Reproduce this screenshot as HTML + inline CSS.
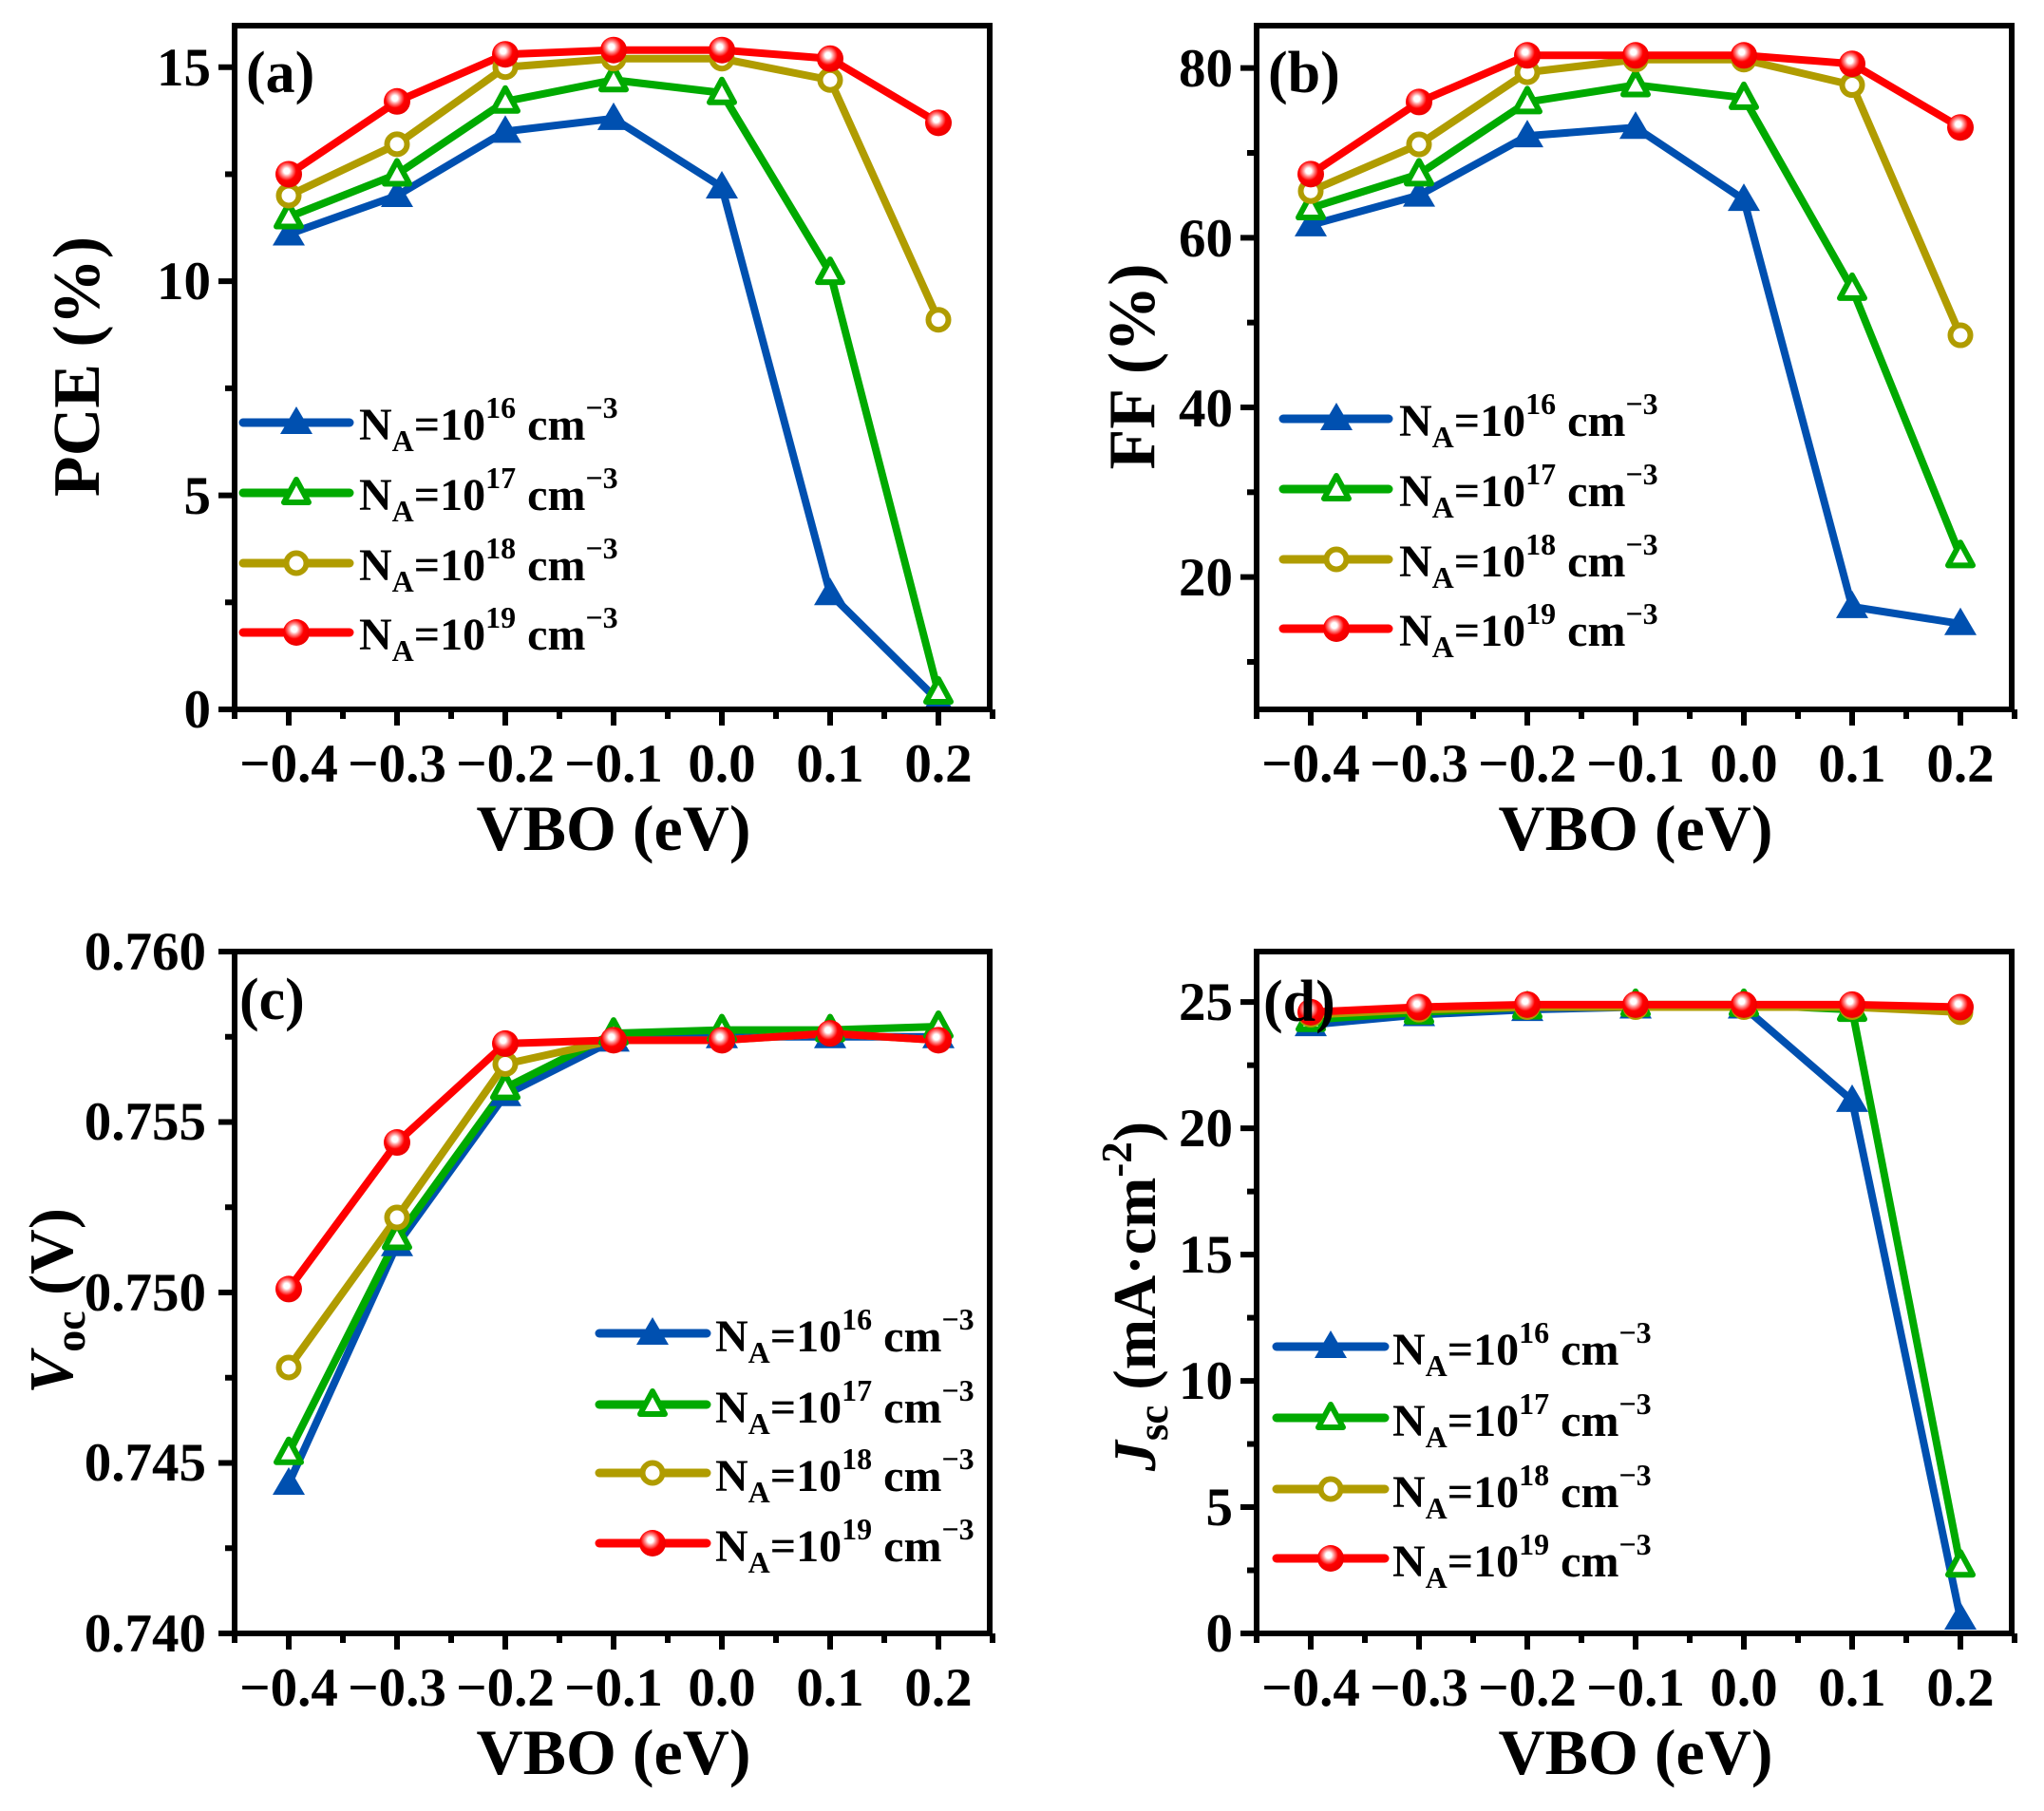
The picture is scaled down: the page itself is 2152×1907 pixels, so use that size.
<!DOCTYPE html>
<html><head><meta charset="utf-8"><style>
html,body{margin:0;padding:0;background:#fff;}
svg{display:block;font-family:"Liberation Serif",serif;font-weight:bold;}
</style></head><body>
<svg id="s" xmlns="http://www.w3.org/2000/svg" width="2152" height="1907" viewBox="0 0 2152 1907">
<defs>
<radialGradient id="rg" cx="0.42" cy="0.38" r="0.6">
<stop offset="0" stop-color="#ffffff"/><stop offset="0.18" stop-color="#ffffff"/><stop offset="0.35" stop-color="#ff9090"/><stop offset="0.6" stop-color="#ff0000"/><stop offset="1" stop-color="#ee0000"/>
</radialGradient>
</defs>
<g id="plots"></g>
<g font-size="57" fill="#000">
<g text-anchor="middle">
<text x="304" y="823">−0.4</text><text x="418" y="823">−0.3</text><text x="532" y="823">−0.2</text><text x="646" y="823">−0.1</text><text x="760" y="823">0.0</text><text x="874" y="823">0.1</text><text x="988" y="823">0.2</text>
<text x="1380" y="823">−0.4</text><text x="1494" y="823">−0.3</text><text x="1608" y="823">−0.2</text><text x="1722" y="823">−0.1</text><text x="1836" y="823">0.0</text><text x="1950" y="823">0.1</text><text x="2064" y="823">0.2</text>
<text x="304" y="1796">−0.4</text><text x="418" y="1796">−0.3</text><text x="532" y="1796">−0.2</text><text x="646" y="1796">−0.1</text><text x="760" y="1796">0.0</text><text x="874" y="1796">0.1</text><text x="988" y="1796">0.2</text>
<text x="1380" y="1796">−0.4</text><text x="1494" y="1796">−0.3</text><text x="1608" y="1796">−0.2</text><text x="1722" y="1796">−0.1</text><text x="1836" y="1796">0.0</text><text x="1950" y="1796">0.1</text><text x="2064" y="1796">0.2</text>
</g>
<g text-anchor="end">
<text x="222" y="766">0</text><text x="222" y="541">5</text><text x="222" y="315">10</text><text x="222" y="90">15</text>
<text x="1298" y="627">20</text><text x="1298" y="449">40</text><text x="1298" y="270">60</text><text x="1298" y="91">80</text>
<text x="217" y="1739">0.740</text><text x="217" y="1559">0.745</text><text x="217" y="1380">0.750</text><text x="217" y="1200">0.755</text><text x="217" y="1021">0.760</text>
<text x="1298" y="1739">0</text><text x="1298" y="1606">5</text><text x="1298" y="1473">10</text><text x="1298" y="1340">15</text><text x="1298" y="1207">20</text><text x="1298" y="1074">25</text>
</g>
</g>
<g font-size="62">
<text x="259" y="97">(a)</text><text x="1335" y="97">(b)</text><text x="252" y="1073">(c)</text><text x="1330" y="1075">(d)</text>
</g>
<g font-size="68" text-anchor="middle">
<text x="646" y="895">VBO (eV)</text><text x="1722" y="895">VBO (eV)</text>
<text x="646" y="1868">VBO (eV)</text><text x="1722" y="1868">VBO (eV)</text>
<text transform="translate(104,386) rotate(-90)" font-size="70">PCE (%)</text>
<text transform="translate(1215,386) rotate(-90)" font-size="70">FF (%)</text>
<text transform="translate(76,1370) rotate(-90)" font-size="66"><tspan font-style="italic">V</tspan><tspan font-size="46" dy="13">oc</tspan><tspan dy="-13"> (V)</tspan></text>
<text transform="translate(1216,1365) rotate(-90)" font-size="64"><tspan font-style="italic">J</tspan><tspan font-size="45" dy="13">sc</tspan><tspan dy="-13"> (mA·cm</tspan><tspan font-size="45" dy="-25">-2</tspan><tspan dy="25">)</tspan></text>
</g>
<g font-size="48">
<text x="378" y="463">N<tspan font-size="32" dy="12">A</tspan><tspan dy="-12">=10</tspan><tspan font-size="32" dy="-23">16</tspan><tspan dy="23"> cm</tspan><tspan font-size="32" dy="-23">−3</tspan></text>
<text x="378" y="537">N<tspan font-size="32" dy="12">A</tspan><tspan dy="-12">=10</tspan><tspan font-size="32" dy="-23">17</tspan><tspan dy="23"> cm</tspan><tspan font-size="32" dy="-23">−3</tspan></text>
<text x="378" y="611">N<tspan font-size="32" dy="12">A</tspan><tspan dy="-12">=10</tspan><tspan font-size="32" dy="-23">18</tspan><tspan dy="23"> cm</tspan><tspan font-size="32" dy="-23">−3</tspan></text>
<text x="378" y="684">N<tspan font-size="32" dy="12">A</tspan><tspan dy="-12">=10</tspan><tspan font-size="32" dy="-23">19</tspan><tspan dy="23"> cm</tspan><tspan font-size="32" dy="-23">−3</tspan></text>

<text x="1473" y="459">N<tspan font-size="32" dy="12">A</tspan><tspan dy="-12">=10</tspan><tspan font-size="32" dy="-23">16</tspan><tspan dy="23"> cm</tspan><tspan font-size="32" dy="-23">−3</tspan></text>
<text x="1473" y="533">N<tspan font-size="32" dy="12">A</tspan><tspan dy="-12">=10</tspan><tspan font-size="32" dy="-23">17</tspan><tspan dy="23"> cm</tspan><tspan font-size="32" dy="-23">−3</tspan></text>
<text x="1473" y="607">N<tspan font-size="32" dy="12">A</tspan><tspan dy="-12">=10</tspan><tspan font-size="32" dy="-23">18</tspan><tspan dy="23"> cm</tspan><tspan font-size="32" dy="-23">−3</tspan></text>
<text x="1473" y="680">N<tspan font-size="32" dy="12">A</tspan><tspan dy="-12">=10</tspan><tspan font-size="32" dy="-23">19</tspan><tspan dy="23"> cm</tspan><tspan font-size="32" dy="-23">−3</tspan></text>

<text x="753" y="1423">N<tspan font-size="32" dy="12">A</tspan><tspan dy="-12">=10</tspan><tspan font-size="32" dy="-23">16</tspan><tspan dy="23"> cm</tspan><tspan font-size="32" dy="-23">−3</tspan></text>
<text x="753" y="1498">N<tspan font-size="32" dy="12">A</tspan><tspan dy="-12">=10</tspan><tspan font-size="32" dy="-23">17</tspan><tspan dy="23"> cm</tspan><tspan font-size="32" dy="-23">−3</tspan></text>
<text x="753" y="1570">N<tspan font-size="32" dy="12">A</tspan><tspan dy="-12">=10</tspan><tspan font-size="32" dy="-23">18</tspan><tspan dy="23"> cm</tspan><tspan font-size="32" dy="-23">−3</tspan></text>
<text x="753" y="1644">N<tspan font-size="32" dy="12">A</tspan><tspan dy="-12">=10</tspan><tspan font-size="32" dy="-23">19</tspan><tspan dy="23"> cm</tspan><tspan font-size="32" dy="-23">−3</tspan></text>

<text x="1466" y="1437">N<tspan font-size="32" dy="12">A</tspan><tspan dy="-12">=10</tspan><tspan font-size="32" dy="-23">16</tspan><tspan dy="23"> cm</tspan><tspan font-size="32" dy="-23">−3</tspan></text>
<text x="1466" y="1512">N<tspan font-size="32" dy="12">A</tspan><tspan dy="-12">=10</tspan><tspan font-size="32" dy="-23">17</tspan><tspan dy="23"> cm</tspan><tspan font-size="32" dy="-23">−3</tspan></text>
<text x="1466" y="1587">N<tspan font-size="32" dy="12">A</tspan><tspan dy="-12">=10</tspan><tspan font-size="32" dy="-23">18</tspan><tspan dy="23"> cm</tspan><tspan font-size="32" dy="-23">−3</tspan></text>
<text x="1466" y="1660">N<tspan font-size="32" dy="12">A</tspan><tspan dy="-12">=10</tspan><tspan font-size="32" dy="-23">19</tspan><tspan dy="23"> cm</tspan><tspan font-size="32" dy="-23">−3</tspan></text>
</g>
</svg>
<script>
(function(){
var NS="http://www.w3.org/2000/svg",G=document.getElementById("plots");
function el(t,a){var e=document.createElementNS(NS,t);for(var k in a)e.setAttribute(k,a[k]);G.appendChild(e);return e;}
var C=["#0050b0","#00aa00","#b09c00","#ff0000"];
function marker(i,x,y){
 if(i==0) el("polygon",{points:(x)+","+(y-17)+" "+(x-17)+","+(y+12)+" "+(x+17)+","+(y+12),fill:C[0]});
 else if(i==1) el("polygon",{points:(x)+","+(y-14)+" "+(x-13)+","+(y+10)+" "+(x+13)+","+(y+10),fill:"#fff",stroke:C[1],"stroke-width":6,"stroke-linejoin":"round"});
 else if(i==2) el("circle",{cx:x,cy:y,r:10.5,fill:"#fff",stroke:C[2],"stroke-width":6});
 else el("circle",{cx:x,cy:y,r:14,fill:"url(#rg)"});
}
var P=[
 {L:247,T:27,B:747,y0:0,y1:15.97,maj:[0,5,10,15],min:[2.5,7.5,12.5],
  d:[[11.1,12.0,13.5,13.8,12.2,2.7,0.2],[11.5,12.5,14.2,14.7,14.4,10.2,0.4],[12.0,13.2,15.0,15.2,15.2,14.7,9.1],[12.5,14.2,15.3,15.4,15.4,15.2,13.7]],
  lg:{x1:256,x2:368,mx:312,ys:[445,519,593,666]}},
 {L:1323,T:27,B:747,y0:4.4,y1:85,maj:[20,40,60,80],min:[10,30,50,70],
  d:[[61.5,65,72,73,64.5,16.5,14.5],[63.5,67.5,76,78,76.5,54,22.5],[65.5,71,79.5,81,81,78,48.5],[67.5,76,81.5,81.5,81.5,80.5,73]],
  lg:{x1:1351,x2:1462,mx:1407,ys:[441,515,589,662]}},
 {L:247,T:1002,B:1720,y0:0.740,y1:0.760,maj:[0.740,0.745,0.750,0.755,0.760],min:[0.7425,0.7475,0.7525,0.7575],
  d:[[0.7444,0.7514,0.7558,0.7574,0.7575,0.7575,0.7575],[0.7453,0.7516,0.7560,0.7576,0.7577,0.7577,0.7578],[0.7478,0.7522,0.7567,0.7574,0.7574,0.7576,0.7574],[0.7501,0.7544,0.7573,0.7574,0.7574,0.7576,0.7574]],
  lg:{x1:631,x2:744,mx:687,ys:[1404,1479,1551,1625]}},
 {L:1323,T:1002,B:1720,y0:0,y1:27,maj:[0,5,10,15,20,25],min:[2.5,7.5,12.5,17.5,22.5],
  d:[[24.1,24.5,24.7,24.8,24.8,21.1,0.6],[24.3,24.6,24.8,24.9,24.9,24.7,2.7],[24.5,24.7,24.8,24.8,24.8,24.8,24.6],[24.6,24.8,24.9,24.9,24.9,24.9,24.8]],
  lg:{x1:1344,x2:1458,mx:1401,ys:[1418,1493,1568,1641]}}
];
P.forEach(function(p){
 var R=p.L+795;
 function Y(v){return p.B-(v-p.y0)/(p.y1-p.y0)*(p.B-p.T);}
 function X(i){return p.L+57+i*114;}
 for(var s=0;s<4;s++){
  var pts=p.d[s].map(function(v,i){return X(i)+","+Y(v);}).join(" ");
  el("polyline",{points:pts,fill:"none",stroke:C[s],"stroke-width":8,"stroke-linejoin":"round","stroke-linecap":"round"});
 }
 for(var s=0;s<4;s++) p.d[s].forEach(function(v,i){marker(s,X(i),Y(v));});
 for(var s=0;s<4;s++){var y=p.lg.ys[s];
  el("line",{x1:p.lg.x1,x2:p.lg.x2,y1:y,y2:y,stroke:C[s],"stroke-width":9,"stroke-linecap":"round"});
  marker(s,p.lg.mx,y);}
 el("rect",{x:p.L,y:p.T,width:R-p.L,height:p.B-p.T,fill:"none",stroke:"#000","stroke-width":6});
 for(var i=0;i<7;i++) el("line",{x1:X(i),x2:X(i),y1:p.B,y2:p.B+17,stroke:"#000","stroke-width":6});
 for(var i=0;i<7;i++) el("line",{x1:X(i)+57,x2:X(i)+57,y1:p.B,y2:p.B+10,stroke:"#000","stroke-width":6});
 el("line",{x1:p.L,x2:p.L,y1:p.B,y2:p.B+10,stroke:"#000","stroke-width":6});
 p.maj.forEach(function(v){el("line",{x1:p.L-17,x2:p.L,y1:Y(v),y2:Y(v),stroke:"#000","stroke-width":6});});
 p.min.forEach(function(v){el("line",{x1:p.L-10,x2:p.L,y1:Y(v),y2:Y(v),stroke:"#000","stroke-width":6});});
});
})();
</script>
</body></html>
